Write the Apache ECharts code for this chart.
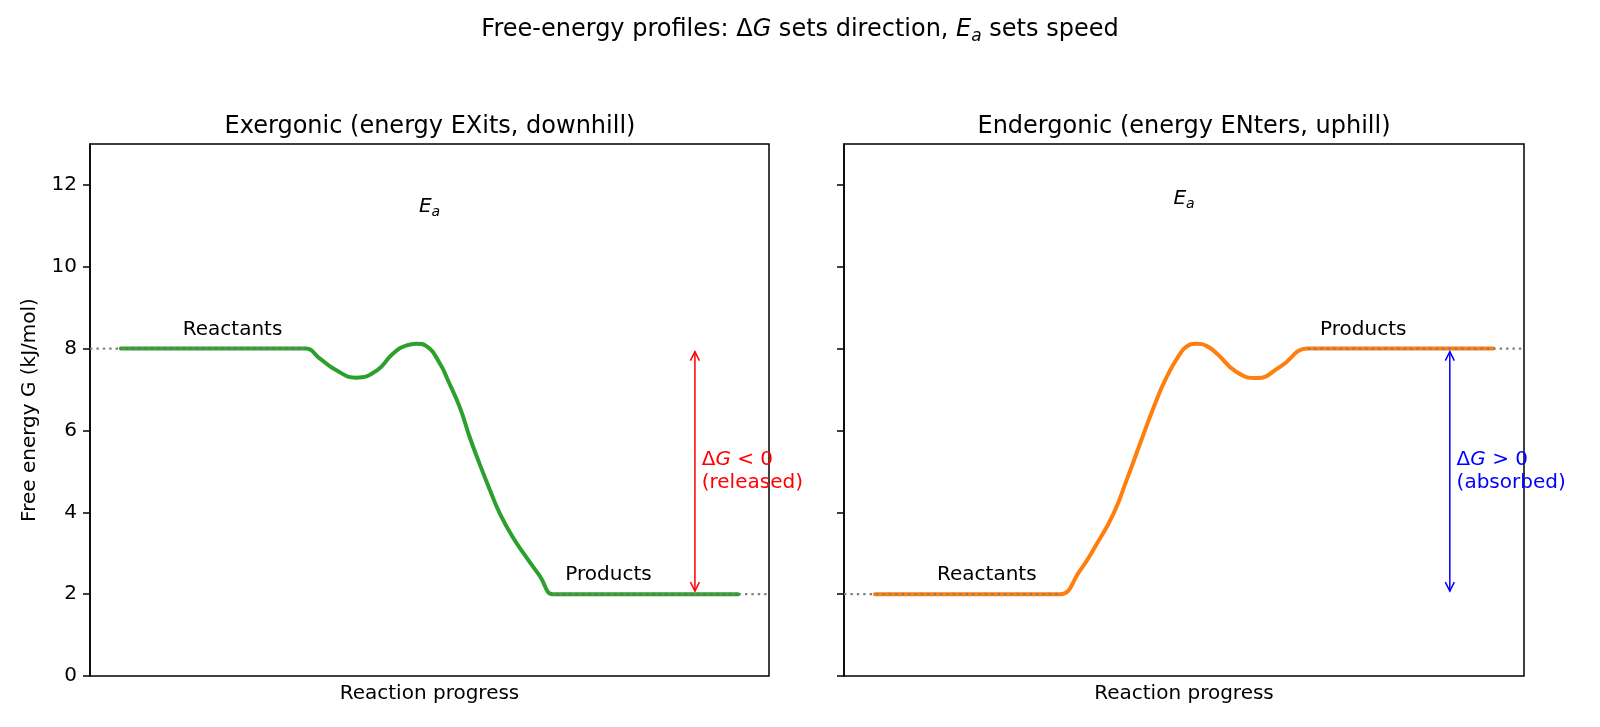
<!DOCTYPE html>
<html>
<head>
<meta charset="utf-8">
<script src="https://cdn.jsdelivr.net/npm/echarts@6/dist/echarts.min.js"></script>
<style>
html, body { margin: 0; padding: 0; background: #fff; }
#main { width: 1600px; height: 727px; }
</style>
</head>
<body>
<div id="main"></div>
<script>
// values
var yTicks = [0, 2, 4, 6, 8, 10, 12];

var exoCurve = [[0, 8], [1.5, 8], [2.9, 8], [3.0, 8], [3.22, 7.76], [3.49, 7.47], [3.81, 7.29], [4.15, 7.47],
    [4.41, 7.88], [4.63, 8.08], [4.79, 8.12], [4.95, 8.06], [5.17, 7.63], [5.30, 7.22], [5.49, 6.57],
    [5.65, 5.84], [5.81, 5.19], [5.98, 4.54], [6.14, 3.97], [6.35, 3.39], [6.57, 2.90], [6.78, 2.46],
    [7.0, 2.0], [7.1, 2.0], [8.5, 2], [10, 2]];
var endoCurve = [[0, 2], [1.5, 2], [2.9, 2], [3.0, 2], [3.32, 2.58], [3.59, 3.23], [3.86, 3.97], [4.07, 4.78],
    [4.29, 5.68], [4.51, 6.57], [4.72, 7.31], [4.94, 7.88], [5.05, 8.06], [5.21, 8.12], [5.37, 8.06],
    [5.53, 7.88], [5.85, 7.43], [6.18, 7.28], [6.55, 7.55], [7.0, 8.0], [7.1, 8.0], [8.5, 8], [10, 8]];

var exoRefLines = [[[-0.5, 8], [3, 8]], [[7, 2], [10.5, 2]]];
var endoRefLines = [[[-0.5, 2], [3, 2]], [[7, 8], [10.5, 8]]];

// [x, yFrom, yTo]
var exoArrow = [9.3, 8, 2];
var endoArrow = [9.3, 2, 8];

var exoLabelPos = [[1.81, 8.46], [7.90, 2.47], [5.0, 11.46], [9.41, 5.0]];
var exoLabelText = ['Reactants', 'Products', '{e|E}{s|a}', 'Δ{g|G} < 0\n(released)'];
var endoLabelPos = [[1.81, 2.47], [7.90, 8.46], [5.0, 11.65], [9.41, 5.0]];
var endoLabelText = ['Reactants', 'Products', '{e|E}{s|a}', 'Δ{g|G} > 0\n(absorbed)'];

var FONT = 'DejaVu Sans';

function mathRich(color) {
    return {
        e: { fontStyle: 'italic', fontSize: 20, fontFamily: FONT, fill: color, lineHeight: 24 },
        s: { fontStyle: 'italic', fontSize: 14, fontFamily: FONT, fill: color, lineHeight: 14,
             padding: [10, 0, 0, 0], verticalAlign: 'top' },
        g: { fontStyle: 'italic', fontSize: 20, fontFamily: FONT, fill: color, lineHeight: 23 }
    };
}

function makeAxes(idx, showLabels) {
    var x = {
        type: 'value', gridIndex: idx, min: -0.5, max: 10.5,
        axisLine: { show: false, onZero: false }, axisTick: { show: false }, axisLabel: { show: false },
        splitLine: { show: false },
        name: 'Reaction progress', nameLocation: 'middle', nameGap: 8,
        nameTextStyle: { fontSize: 20, fontFamily: FONT, color: '#000' }
    };
    var y = {
        type: 'value', gridIndex: idx, min: 0, max: 13,
        axisLine: { show: true, onZero: false, lineStyle: { color: '#000', width: 1.5 } },
        axisTick: { show: true, inside: false, length: 7, customValues: yTicks,
                    lineStyle: { color: '#000', width: 1.5 } },
        axisLabel: { show: showLabels, customValues: yTicks, margin: 13,
                     fontSize: 20, fontFamily: FONT, color: '#000' },
        splitLine: { show: false }
    };
    if (showLabels) {
        y.name = 'Free energy G (kJ/mol)';
        y.nameLocation = 'middle';
        y.nameGap = 50;
        y.nameTextStyle = { fontSize: 20, fontFamily: FONT, color: '#000' };
    }
    return [x, y];
}

function curveSeries(idx, data, color) {
    return {
        type: 'line', xAxisIndex: idx, yAxisIndex: idx, data: data,
        showSymbol: false, smooth: 0.5, z: 3, silent: true,
        lineStyle: { color: color, width: 4, join: 'round', cap: 'round' }
    };
}

function refSeries(idx, seg) {
    return {
        type: 'line', xAxisIndex: idx, yAxisIndex: idx, data: seg,
        showSymbol: false, z: 4, silent: true,
        lineStyle: { color: '#808080', width: 2.4, type: [2.4, 4] }
    };
}

function arrowSeries(idx, arr, color) {
    return {
        type: 'custom', xAxisIndex: idx, yAxisIndex: idx, data: [arr], z: 5, silent: true,
        renderItem: function (params, api) {
            var a = api.coord([api.value(0), api.value(1)]);
            var b = api.coord([api.value(0), api.value(2)]);
            var top = Math.min(a[1], b[1]) + 3;
            var bot = Math.max(a[1], b[1]) - 3;
            var px = a[0];
            var st = { stroke: color, lineWidth: 1.5, fill: null };
            return {
                type: 'group', children: [
                    { type: 'line', shape: { x1: px, y1: top, x2: px, y2: bot }, style: st },
                    { type: 'polyline', shape: { points: [[px - 4.5, top + 9], [px, top], [px + 4.5, top + 9]] }, style: st },
                    { type: 'polyline', shape: { points: [[px - 4.5, bot - 9], [px, bot], [px + 4.5, bot - 9]] }, style: st }
                ]
            };
        }
    };
}

function textSeries(idx, pos, texts, dgColor) {
    return {
        type: 'custom', xAxisIndex: idx, yAxisIndex: idx, data: pos, z: 6, silent: true,
        renderItem: function (params, api) {
            var p = api.coord([api.value(0), api.value(1)]);
            var i = params.dataIndex;
            var color = i === 3 ? dgColor : '#000';
            return {
                type: 'text', x: p[0], y: p[1],
                style: {
                    text: texts[i], fill: color, fontSize: 20, fontFamily: FONT,
                    lineHeight: i === 3 ? 23 : 24,
                    align: i === 3 ? 'left' : 'center', verticalAlign: 'middle',
                    rich: mathRich(color)
                }
            };
        }
    };
}

var chart = echarts.init(document.getElementById('main'));
var axL = makeAxes(0, true);
var axR = makeAxes(1, false);

var option = {
    backgroundColor: '#fff',
    animation: false,
    grid: [
        { left: 90, top: 144, width: 679, height: 532, show: true, borderColor: '#000', borderWidth: 1.5 },
        { left: 844, top: 144, width: 680, height: 532, show: true, borderColor: '#000', borderWidth: 1.5 }
    ],
    xAxis: [axL[0], axR[0]],
    yAxis: [axL[1], axR[1]],
    graphic: [
        { type: 'text', x: 800, y: 30, style: {
            text: 'Free-energy profiles: Δ{g|G} sets direction, {e|E}{s|a} sets speed',
            fill: '#000', fontSize: 24, fontFamily: FONT, lineHeight: 28, align: 'center', verticalAlign: 'middle',
            rich: {
                g: { fontStyle: 'italic', fontSize: 24, fontFamily: FONT, fill: '#000', lineHeight: 28 },
                e: { fontStyle: 'italic', fontSize: 24, fontFamily: FONT, fill: '#000', lineHeight: 28 },
                s: { fontStyle: 'italic', fontSize: 17, fontFamily: FONT, fill: '#000', lineHeight: 17,
                     padding: [12, 0, 0, 0], verticalAlign: 'top' }
            } } },
        { type: 'text', x: 430, y: 127, style: {
            text: 'Exergonic (energy EXits, downhill)', fill: '#000', fontSize: 24, fontFamily: FONT,
            align: 'center', verticalAlign: 'middle' } },
        { type: 'text', x: 1184, y: 127, style: {
            text: 'Endergonic (energy ENters, uphill)', fill: '#000', fontSize: 24, fontFamily: FONT,
            align: 'center', verticalAlign: 'middle' } }
    ],
    series: [
        curveSeries(0, exoCurve, '#2ca02c'),
        refSeries(0, exoRefLines[0]),
        refSeries(0, exoRefLines[1]),
        arrowSeries(0, exoArrow, '#ff0000'),
        textSeries(0, exoLabelPos, exoLabelText, '#ff0000'),
        curveSeries(1, endoCurve, '#ff7f0e'),
        refSeries(1, endoRefLines[0]),
        refSeries(1, endoRefLines[1]),
        arrowSeries(1, endoArrow, '#0000ff'),
        textSeries(1, endoLabelPos, endoLabelText, '#0000ff')
    ]
};
chart.setOption(option);
</script>
</body>
</html>
